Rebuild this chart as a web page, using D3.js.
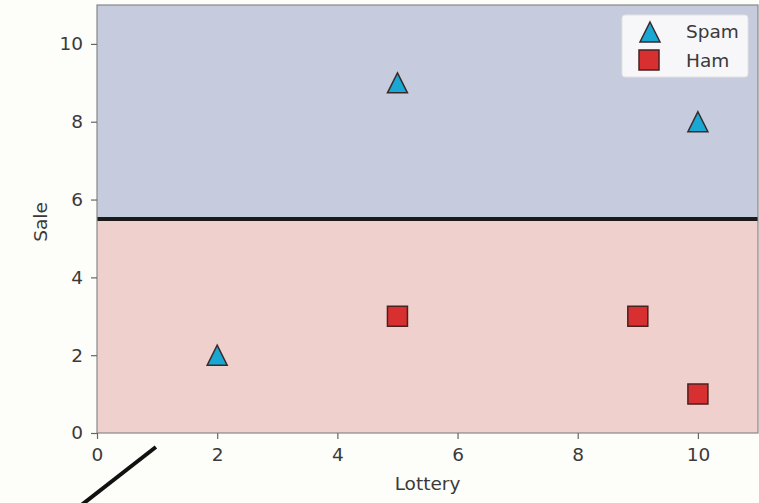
<!DOCTYPE html>
<html><head><meta charset="utf-8">
<script src="https://cdn.jsdelivr.net/npm/d3@7"></script>
<style>body{margin:0;background:#fdfdf9;}svg{display:block;}</style>
</head><body>
<script>
const spamX = [2, 5, 10];
const spamY = [2, 9, 8];
const hamX = [5, 9, 10];
const hamY = [3, 3, 1];
const threshold = 5.5;
const xTicks = [0, 2, 4, 6, 8, 10];
const yTicks = [0, 2, 4, 6, 8, 10];
const strayX = [0.98, -0.3];
const strayY = [-0.36, -1.9];

const W = 759, H = 503;
const m = {l: 97, r: 1, t: 5, b: 70};
const svg = d3.select("body").append("svg").attr("width", W).attr("height", H);
const x = d3.scaleLinear().domain([0, 11]).range([m.l, W - m.r]);
const y = d3.scaleLinear().domain([0, 11]).range([H - m.b, m.t]);

svg.append("rect").attr("width", W).attr("height", H).attr("fill", "#fdfdf9");
svg.append("rect").attr("x", x(0)).attr("y", y(11)).attr("width", x(11) - x(0)).attr("height", y(threshold) - y(11)).attr("fill", "#c6cbdd");
svg.append("rect").attr("x", x(0)).attr("y", y(threshold)).attr("width", x(11) - x(0)).attr("height", y(0) - y(threshold)).attr("fill", "#efd0cc");
svg.append("line").attr("x1", x(0)).attr("x2", x(11)).attr("y1", y(threshold)).attr("y2", y(threshold)).attr("stroke", "#1a1a1a").attr("stroke-width", 4);
svg.append("rect").attr("x", x(0)).attr("y", y(11)).attr("width", x(11) - x(0)).attr("height", y(0) - y(11)).attr("fill", "none").attr("stroke", "#888").attr("stroke-width", 1.2);

const fnt = "DejaVu Sans, sans-serif";
const fs = "18.5px";
const xa = svg.append("g").attr("transform", `translate(0,${y(0)})`).call(d3.axisBottom(x).tickValues(xTicks).tickSize(6).tickPadding(9));
const ya = svg.append("g").attr("transform", `translate(${x(0)},0)`).call(d3.axisLeft(y).tickValues(yTicks).tickSize(6).tickPadding(8));
[xa, ya].forEach(a => {
  a.select(".domain").remove();
  a.selectAll("line").attr("stroke", "#666").attr("stroke-width", 1.2);
  a.selectAll("text").attr("fill", "#3a3a3a").style("font-family", fnt).style("font-size", fs);
});
svg.append("text").attr("x", x(5.5)).attr("y", 490).attr("text-anchor", "middle").attr("fill", "#3a3a3a").style("font-family", fnt).style("font-size", fs).text("Lottery");
svg.append("text").attr("transform", `translate(47,${y(5.5) + 3}) rotate(-90)`).attr("text-anchor", "middle").attr("fill", "#3a3a3a").style("font-family", fnt).style("font-size", fs).text("Sale");

const triPath = "M0,-10L10,10L-10,10Z";
const sq = d3.symbol().type(d3.symbolSquare).size(400);
svg.append("g").selectAll("path").data(spamX.map((v, i) => [v, spamY[i]])).join("path")
  .attr("d", triPath).attr("transform", d => `translate(${x(d[0])},${y(d[1])})`)
  .attr("fill", "#19a8d4").attr("stroke", "#3a2a2a").attr("stroke-width", 1.5);
svg.append("g").selectAll("path").data(hamX.map((v, i) => [v, hamY[i]])).join("path")
  .attr("d", sq).attr("transform", d => `translate(${x(d[0])},${y(d[1])})`)
  .attr("fill", "#d83030").attr("stroke", "#4a2020").attr("stroke-width", 1.5);

const lg = svg.append("g").attr("transform", "translate(622,15)");
lg.append("rect").attr("width", 126).attr("height", 62).attr("rx", 3).attr("fill", "#f7f6f8").attr("stroke", "#e2e2e2");
lg.append("path").attr("d", triPath).attr("transform", "translate(28,17)").attr("fill", "#19a8d4").attr("stroke", "#3a2a2a").attr("stroke-width", 1.5);
lg.append("path").attr("d", sq).attr("transform", "translate(27,45)").attr("fill", "#d83030").attr("stroke", "#4a2020").attr("stroke-width", 1.5);
lg.append("text").attr("x", 64).attr("y", 23).attr("fill", "#3a3a3a").style("font-family", fnt).style("font-size", fs).text("Spam");
lg.append("text").attr("x", 64).attr("y", 52).attr("fill", "#3a3a3a").style("font-family", fnt).style("font-size", fs).text("Ham");

svg.append("line").attr("x1", x(strayX[0])).attr("y1", y(strayY[0])).attr("x2", x(strayX[1])).attr("y2", y(strayY[1]))
  .attr("stroke", "#111").attr("stroke-width", 4);
</script>
</body></html>
